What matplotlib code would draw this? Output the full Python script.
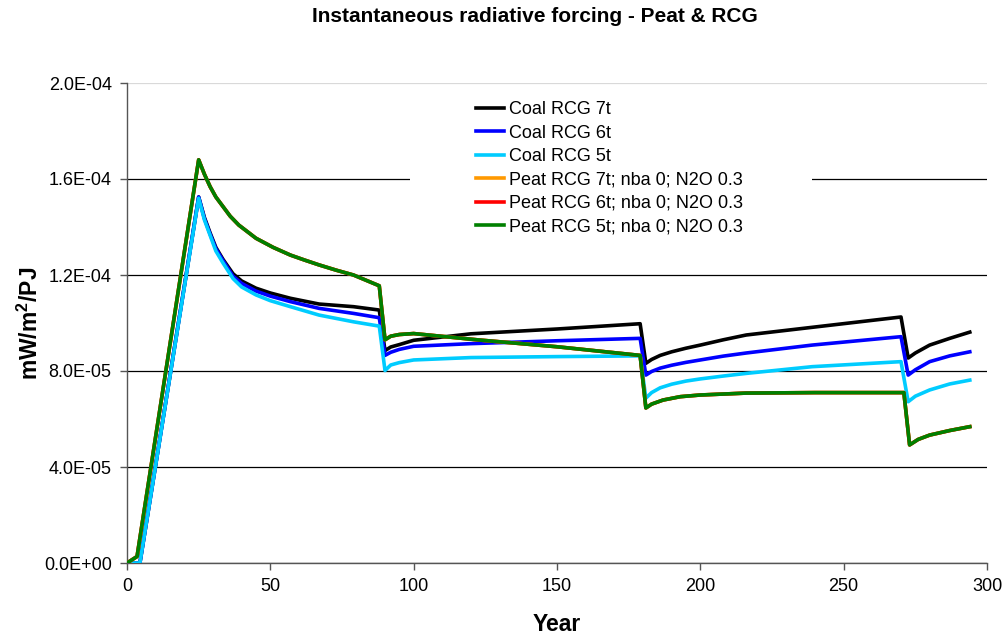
import matplotlib
matplotlib.use("Agg")
import matplotlib.pyplot as plt
from matplotlib.ticker import FuncFormatter
from matplotlib.patches import Rectangle

plt.rcParams['font.family'] = ['Liberation Sans', 'DejaVu Sans']
plt.rcParams['mathtext.fontset'] = 'custom'
plt.rcParams['mathtext.rm'] = 'Liberation Sans'
plt.rcParams['mathtext.bf'] = 'Liberation Sans:bold'

# ---------------- data (values in 1e-4 mW/m2/PJ) ----------------
coal_years = [0, 4.5, 25, 27, 29, 31, 33.5, 37, 40, 45,
              50, 57, 67, 79, 88, 90, 92, 95, 100, 120,
              150, 179, 181, 183, 186, 190, 195, 200, 208, 216,
              239, 270, 272.5, 275, 280, 287, 294]
coal_7t = [0, 0, 1.525, 1.44, 1.375, 1.315, 1.265, 1.205, 1.175, 1.145,
           1.125, 1.103, 1.079, 1.068, 1.054, 0.885, 0.90, 0.91, 0.928, 0.955,
           0.975, 0.997, 0.832, 0.848, 0.865, 0.88, 0.895, 0.908, 0.93, 0.95,
           0.982, 1.025, 0.854, 0.875, 0.908, 0.936, 0.962]
coal_6t = [0, 0, 1.525, 1.435, 1.37, 1.31, 1.26, 1.195, 1.165, 1.133,
           1.112, 1.089, 1.061, 1.04, 1.022, 0.865, 0.878, 0.89, 0.903, 0.914,
           0.926, 0.936, 0.783, 0.798, 0.812, 0.824, 0.836, 0.846, 0.862, 0.875,
           0.908, 0.943, 0.783, 0.805, 0.839, 0.863, 0.88]
coal_5t = [0, 0, 1.52, 1.43, 1.365, 1.30, 1.25, 1.185, 1.15, 1.117,
           1.093, 1.068, 1.033, 1.005, 0.987, 0.802, 0.825, 0.835, 0.846, 0.856,
           0.86, 0.863, 0.687, 0.71, 0.73, 0.745, 0.758, 0.767, 0.779, 0.79,
           0.818, 0.839, 0.672, 0.695, 0.721, 0.746, 0.762]

peat_years = [0, 3.5, 25, 27, 29, 31, 33.5, 36, 39, 45,
              51, 57, 62, 67, 73, 79, 84, 88, 90, 92,
              95, 100, 123, 150, 179, 181, 183, 187, 193, 200,
              216, 240, 271, 273, 276, 280, 287, 294]
peat_7t = [0, 0.027, 1.68, 1.62, 1.568, 1.525, 1.485, 1.445, 1.408, 1.353,
           1.315, 1.283, 1.262, 1.242, 1.22, 1.20, 1.175, 1.155, 0.93, 0.945,
           0.952, 0.956, 0.929, 0.901, 0.865, 0.646, 0.662, 0.679, 0.693, 0.70,
           0.708, 0.71, 0.71, 0.492, 0.515, 0.533, 0.552, 0.568]
peat_6t = [0, 0.027, 1.68, 1.62, 1.568, 1.525, 1.485, 1.445, 1.408, 1.353,
           1.315, 1.283, 1.262, 1.242, 1.22, 1.20, 1.175, 1.155, 0.93, 0.945,
           0.952, 0.956, 0.929, 0.901, 0.865, 0.646, 0.662, 0.679, 0.693, 0.70,
           0.708, 0.71, 0.71, 0.492, 0.515, 0.533, 0.552, 0.568]
peat_5t = [0, 0.027, 1.68, 1.62, 1.568, 1.525, 1.485, 1.445, 1.408, 1.353,
           1.315, 1.283, 1.262, 1.242, 1.22, 1.20, 1.175, 1.155, 0.93, 0.945,
           0.952, 0.956, 0.929, 0.901, 0.865, 0.646, 0.662, 0.679, 0.693, 0.70,
           0.708, 0.71, 0.71, 0.492, 0.515, 0.533, 0.552, 0.568]
SCALE = 1e-4

labels = ["Coal RCG 7t", "Coal RCG 6t", "Coal RCG 5t",
          "Peat RCG 7t; nba 0; N2O 0.3", "Peat RCG 6t; nba 0; N2O 0.3", "Peat RCG 5t; nba 0; N2O 0.3"]
colors = ["#000000", "#0000FF", "#00CCFF", "#FF9900", "#FF0000", "#008000"]
y_ticks = [0, 4e-5, 8e-5, 1.2e-4, 1.6e-4, 2.0e-4]
x_ticks = [0, 50, 100, 150, 200, 250, 300]

# ---------------- figure ----------------
W, H = 1006, 636
fig = plt.figure(figsize=(W / 100, H / 100), dpi=100)
L, R, B, T = 127, 987, 563, 83
ax = fig.add_axes([L / W, 1 - B / H, (R - L) / W, (B - T) / H])

series = [(coal_years, coal_7t), (coal_years, coal_6t), (coal_years, coal_5t),
          (peat_years, peat_7t), (peat_years, peat_6t), (peat_years, peat_5t)]
handles = []
for (xs, ys), lab, c in zip(series, labels, colors):
    h, = ax.plot(xs, [v * SCALE for v in ys], color=c, lw=2.6, label=lab, zorder=3,
                 solid_joinstyle='round')
    handles.append(h)

ax.set_xlim(0, 300)
ax.set_ylim(0, 2.0e-4)
ax.set_xticks(x_ticks)
ax.set_yticks(y_ticks)
ax.yaxis.set_major_formatter(FuncFormatter(lambda v, p: f"{v:.1E}"))

ax.grid(axis='y', color='#000000', lw=0.9, zorder=1)
ax.set_axisbelow(True)
ygl = ax.get_ygridlines()
ygl[-1].set_color('#d9d9d9')

for s in ['top', 'right']:
    ax.spines[s].set_visible(False)
for s in ['left', 'bottom']:
    ax.spines[s].set_color('#555555')
    ax.spines[s].set_linewidth(1.0)
ax.tick_params(axis='both', direction='out', length=5, width=1.0, color='#555555',
               labelsize=13, labelcolor='black', pad=6)

ax.set_xlabel("Year", fontsize=16.5, fontweight='bold', labelpad=12.5)
ax.set_ylabel(r"mW/m$^\mathbf{2}$/PJ", fontsize=16.5, fontweight='bold', labelpad=1)

fig.text(535 / W, 1 - 17 / H, "Instantaneous radiative forcing - Peat & RCG",
         ha='center', va='center', fontsize=15, fontweight='bold')

# legend background (white box covering gridline)
ax.add_patch(Rectangle(((410 - L) / (R - L), (B - 262) / (B - T)),
                       (812 - 410) / (R - L), (262 - 90) / (B - T),
                       transform=ax.transAxes, facecolor='white', edgecolor='none', zorder=2))
leg = ax.legend(handles=handles, loc='upper left',
                bbox_to_anchor=((476 - L) / (R - L), (B - 101) / (B - T)),
                frameon=False, fontsize=13, handlelength=1.55, handletextpad=0.3,
                labelspacing=0.36, borderpad=0, borderaxespad=0)
leg.set_zorder(4)

fig.savefig("out.png", dpi=100)
